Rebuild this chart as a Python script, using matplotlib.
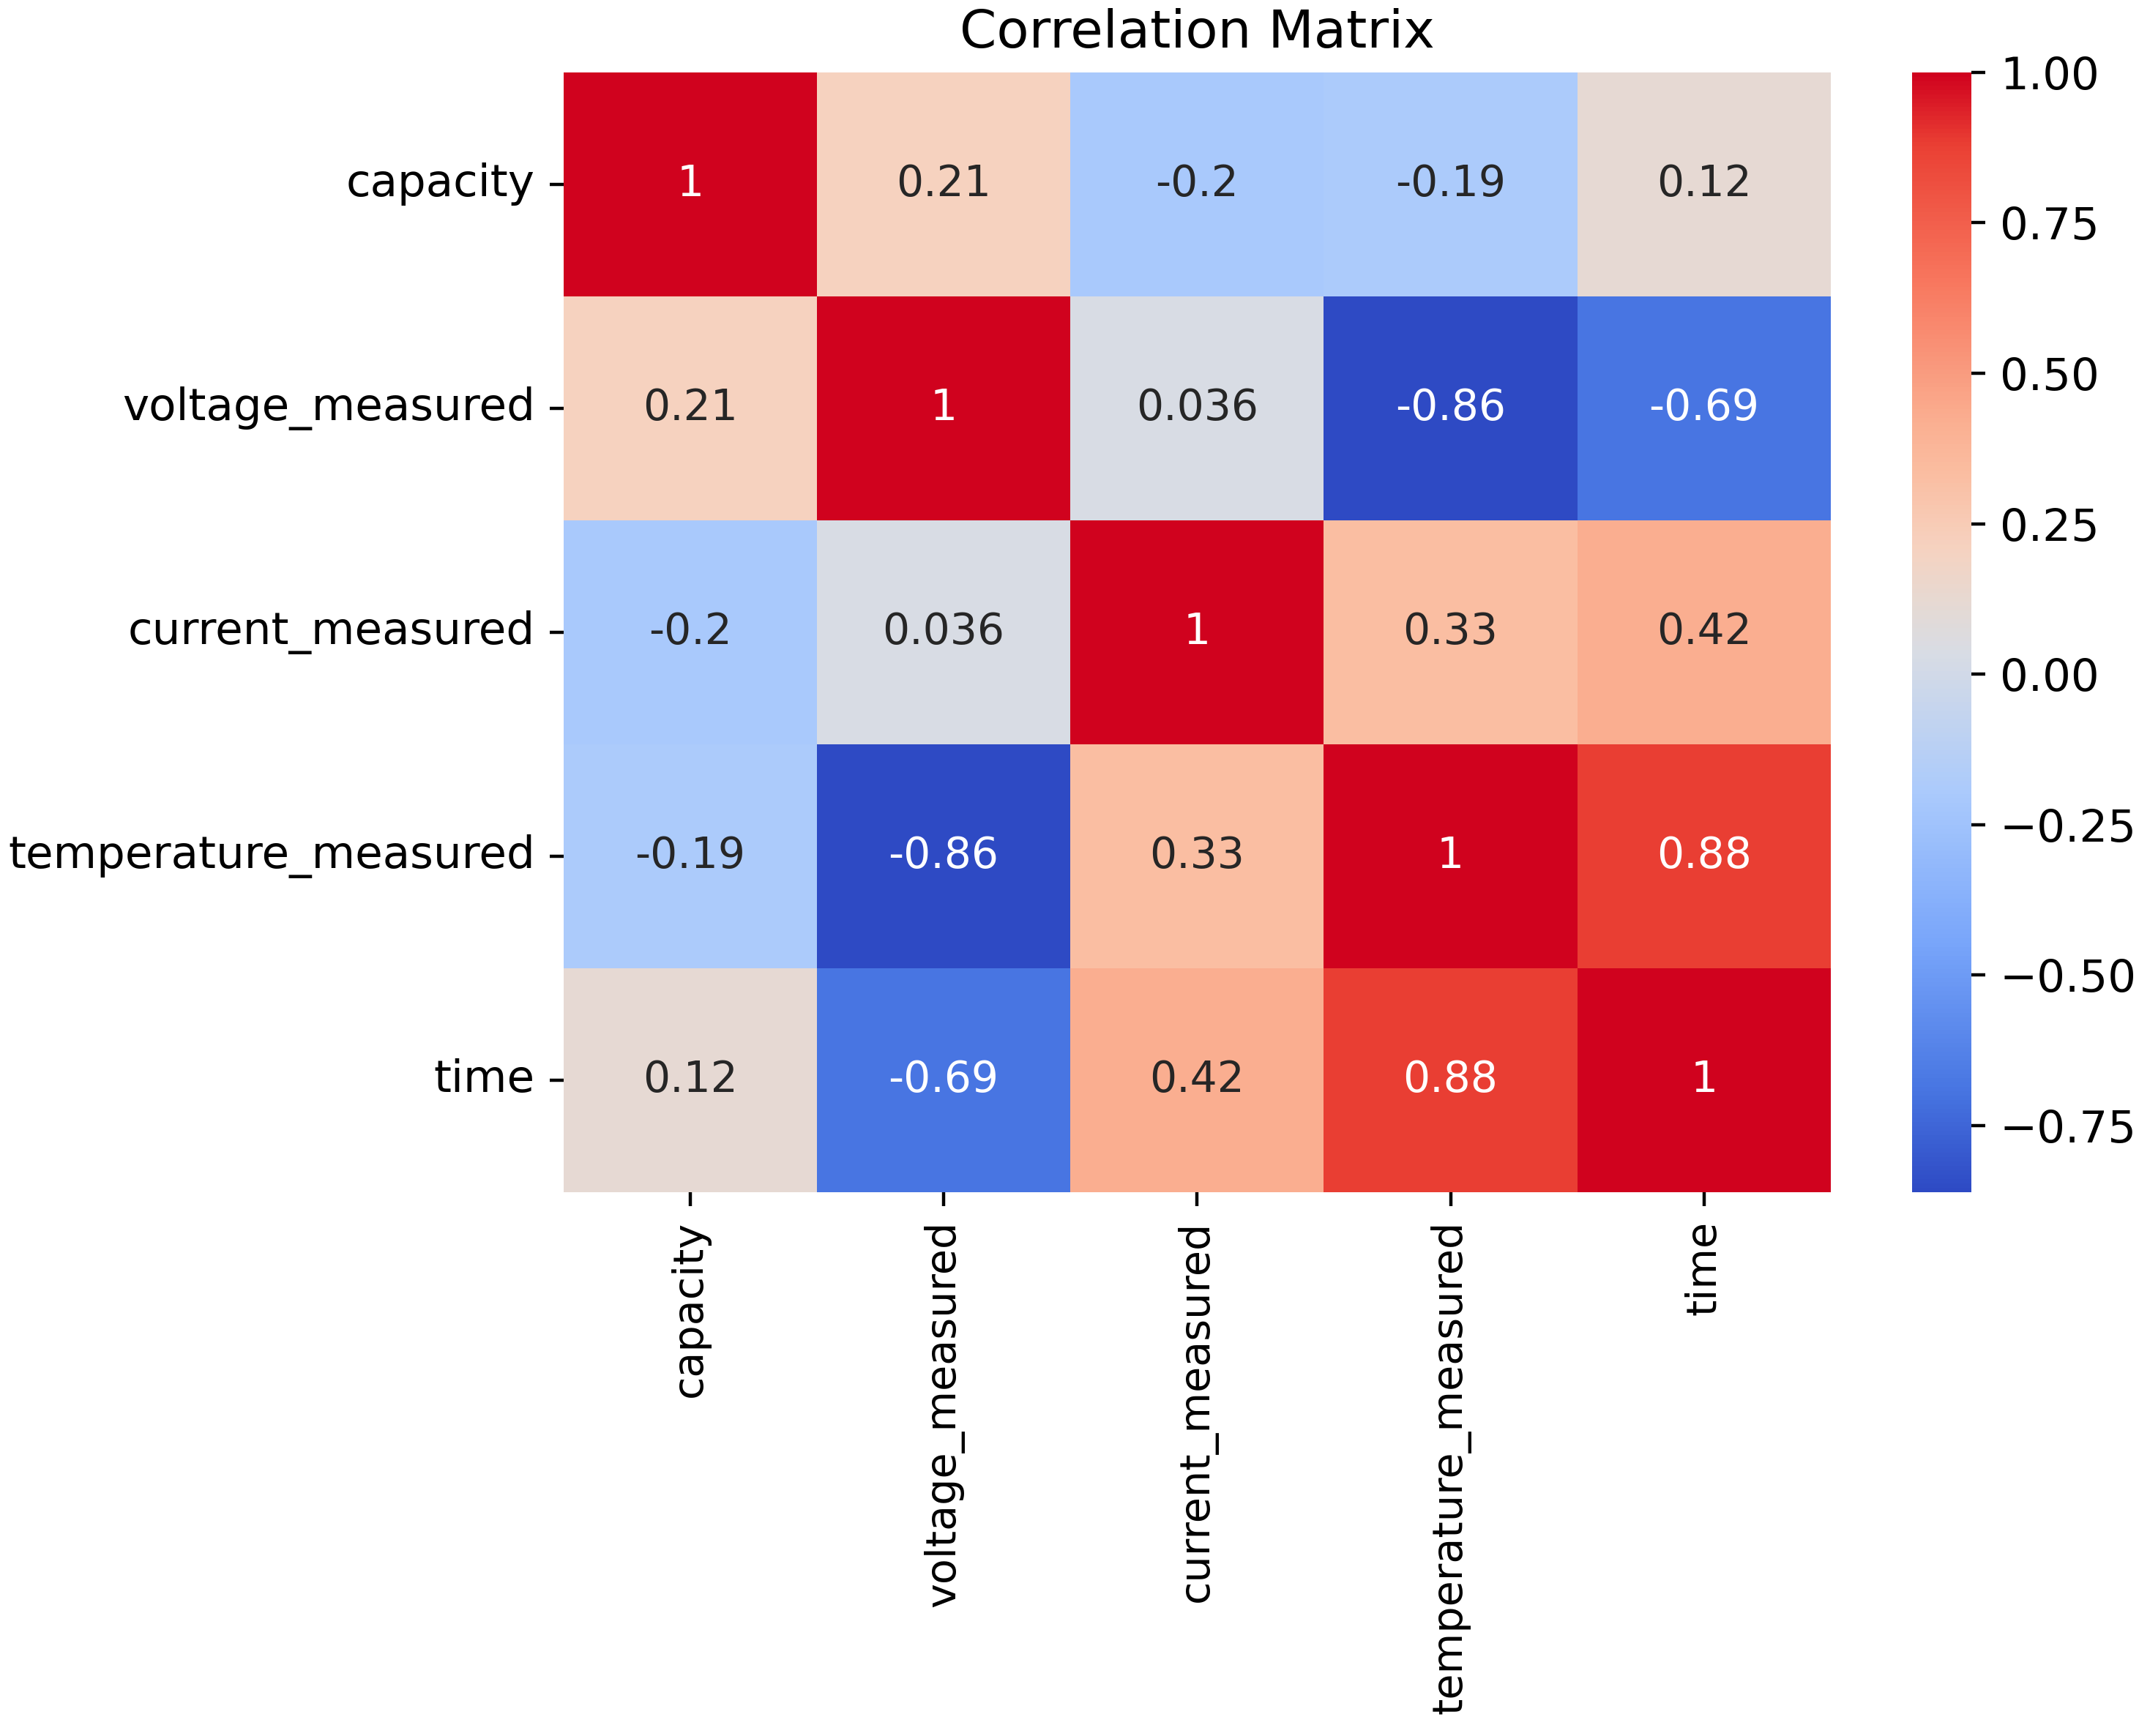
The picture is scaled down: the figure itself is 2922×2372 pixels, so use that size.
import numpy as np
import pandas as pd
import seaborn as sns
import matplotlib
matplotlib.use("Agg")
import matplotlib.pyplot as plt
from matplotlib.colors import LinearSegmentedColormap

# variables and correlation values
labels = ["capacity", "voltage_measured", "current_measured",
          "temperature_measured", "time"]
capacity = [1, 0.21, -0.2, -0.19, 0.12]
voltage_measured = [0.21, 1, 0.036, -0.86, -0.69]
current_measured = [-0.2, 0.036, 1, 0.33, 0.42]
temperature_measured = [-0.19, -0.86, 0.33, 1, 0.88]
time = [0.12, -0.69, 0.42, 0.88, 1]

corr = pd.DataFrame([capacity, voltage_measured, current_measured,
                     temperature_measured, time], index=labels, columns=labels)

# coolwarm-like palette, a bit more saturated as in the picture
vmin, vmax = -0.86, 1.0
anchors = [(-0.86, (46, 74, 196)), (-0.69, (72, 118, 226)),
           (-0.45, (120, 165, 250)), (-0.2, (170, 202, 252)),
           (0.036, (216, 220, 228)), (0.12, (230, 217, 210)),
           (0.21, (246, 210, 192)), (0.33, (250, 190, 162)),
           (0.42, (250, 175, 145)), (0.65, (248, 120, 95)),
           (0.88, (234, 64, 52)), (1.0, (208, 2, 30))]
cmap = LinearSegmentedColormap.from_list(
    "cw", [((v - vmin) / (vmax - vmin), np.array(c) / 255) for v, c in anchors])

fig = plt.figure(figsize=(2922 / 400, 2372 / 400), dpi=400)
ax = fig.add_axes([0.2634, 0.3134, 0.5925, 0.645])
cax = fig.add_axes([0.894, 0.3134, 0.0276, 0.645])

sns.heatmap(corr, annot=True, cmap=cmap, vmin=vmin, vmax=vmax, ax=ax,
            cbar_ax=cax, annot_kws={"fontsize": 10.5})
ax.tick_params(axis="y", labelsize=11)
ax.tick_params(axis="x", labelsize=10.3)
cax.tick_params(labelsize=11)
ax.set_title("Correlation Matrix", fontsize=13)

fig.savefig("out.png", dpi=400)
